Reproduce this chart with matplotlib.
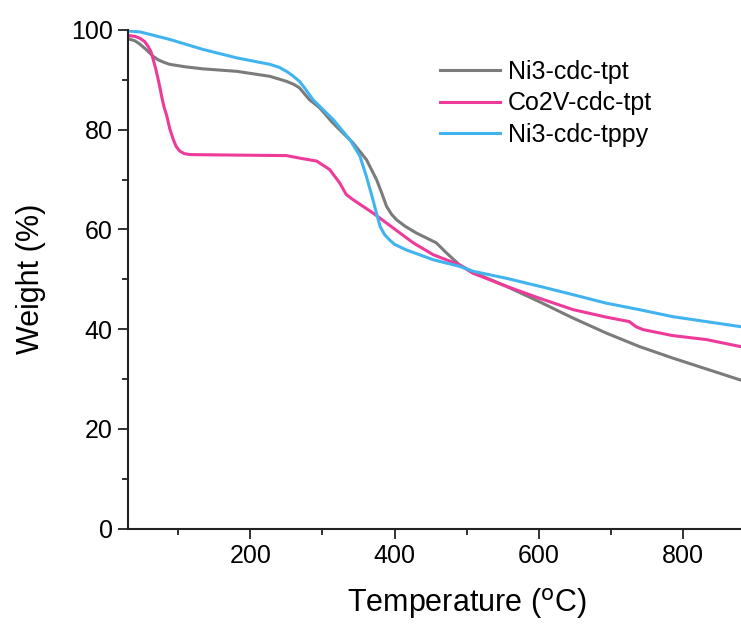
import matplotlib
matplotlib.use('Agg')
import matplotlib.pyplot as plt
from matplotlib.ticker import MultipleLocator

plt.rcParams['font.family'] = ['Liberation Sans', 'DejaVu Sans']

# Ni3-cdc-tpt
t_a = [29, 40, 47, 55, 65, 72, 80, 88, 110, 134, 181, 227, 250, 260, 268, 282,
       296, 314, 342, 361, 375, 382, 389, 396, 403, 415, 430, 458, 472, 490,
       509, 555, 601, 648, 694, 740, 786, 833, 880]
w_a = [98.3, 97.8, 97.1, 96.1, 94.7, 94.0, 93.5, 93.1, 92.6, 92.2, 91.7, 90.7,
       89.7, 89.1, 88.4, 86.0, 84.4, 81.4, 77.4, 74.0, 70.0, 67.4, 64.6, 63.0,
       61.9, 60.6, 59.3, 57.3, 55.3, 52.9, 51.4, 48.6, 45.5, 42.2, 39.2, 36.5,
       34.2, 32.0, 29.8]

# Co2V-cdc-tpt
t_b = [29, 40, 47, 53, 58, 62, 65, 68, 71, 74, 77, 80, 84, 88, 93, 97, 102,
       108, 116, 180, 250, 268, 292, 310, 324, 333, 342, 370, 398, 426, 454,
       490, 509, 555, 601, 648, 694, 726, 735, 745, 786, 833, 880]
w_b = [98.9, 98.7, 98.3, 97.7, 96.7, 95.6, 94.1, 92.5, 90.7, 88.7, 86.5, 84.6,
       82.7, 80.2, 78.0, 76.6, 75.7, 75.2, 75.0, 74.9, 74.8, 74.3, 73.7, 72.0,
       69.3, 67.0, 66.0, 63.3, 60.3, 57.3, 54.9, 52.9, 51.2, 48.6, 46.2, 43.9,
       42.4, 41.5, 40.5, 39.9, 38.7, 37.9, 36.5]

# Ni3-cdc-tppy
t_c = [29, 47, 88, 134, 181, 227, 240, 250, 258, 268, 275, 287, 315, 338, 352,
       361, 370, 375, 380, 386, 393, 400, 416, 454, 490, 509, 555, 601, 648,
       694, 740, 786, 833, 880]
w_c = [99.8, 99.6, 98.1, 96.1, 94.4, 93.1, 92.5, 91.7, 90.9, 89.7, 88.4, 86.0,
       82.0, 78.0, 74.7, 70.6, 66.0, 63.2, 60.6, 59.0, 57.9, 57.0, 55.9, 53.9,
       52.6, 51.6, 50.2, 48.6, 46.9, 45.2, 43.9, 42.5, 41.5, 40.5]

labels = ['Ni3-cdc-tpt', 'Co2V-cdc-tpt', 'Ni3-cdc-tppy']
colors = ['#7b7b7b', '#ee3a98', '#41b4f0']

fig = plt.figure(figsize=(7.41, 6.24), dpi=100)
ax = fig.add_axes([0.1727, 0.153, 0.8273, 0.799])

ax.plot(t_a, w_a, color=colors[0], lw=2.2, label=labels[0])
ax.plot(t_b, w_b, color=colors[1], lw=2.2, label=labels[1])
ax.plot(t_c, w_c, color=colors[2], lw=2.2, label=labels[2])

ax.set_xlim(30, 881)
ax.set_ylim(0, 100)
ax.xaxis.set_major_locator(MultipleLocator(200))
ax.xaxis.set_minor_locator(MultipleLocator(100))
ax.yaxis.set_major_locator(MultipleLocator(20))
ax.yaxis.set_minor_locator(MultipleLocator(10))

for s in ['top', 'right']:
    ax.spines[s].set_visible(False)
for s in ['left', 'bottom']:
    ax.spines[s].set_linewidth(1.5)
    ax.spines[s].set_color('#222222')

ax.tick_params(which='major', direction='out', length=7, width=1.3,
               labelsize=18, color='#222222', pad=4)
ax.tick_params(which='minor', direction='out', length=4, width=1.3,
               color='#222222')

ax.set_xlabel('Temperature ($^{\\rm o}$C)', fontsize=22)
ax.set_ylabel('Weight (%)', fontsize=22)
# the original figure is cropped at the right, so the x label sits right of centre
ax.xaxis.set_label_coords(0.553, -0.115)
ax.yaxis.set_label_coords(-0.133, 0.5)

ax.legend(loc='upper left', bbox_to_anchor=(0.509, 0.94), frameon=False,
          fontsize=18, handlelength=2.4, handletextpad=0.3, labelspacing=0.3,
          borderpad=0, borderaxespad=0)

fig.savefig('out.png', dpi=100)
